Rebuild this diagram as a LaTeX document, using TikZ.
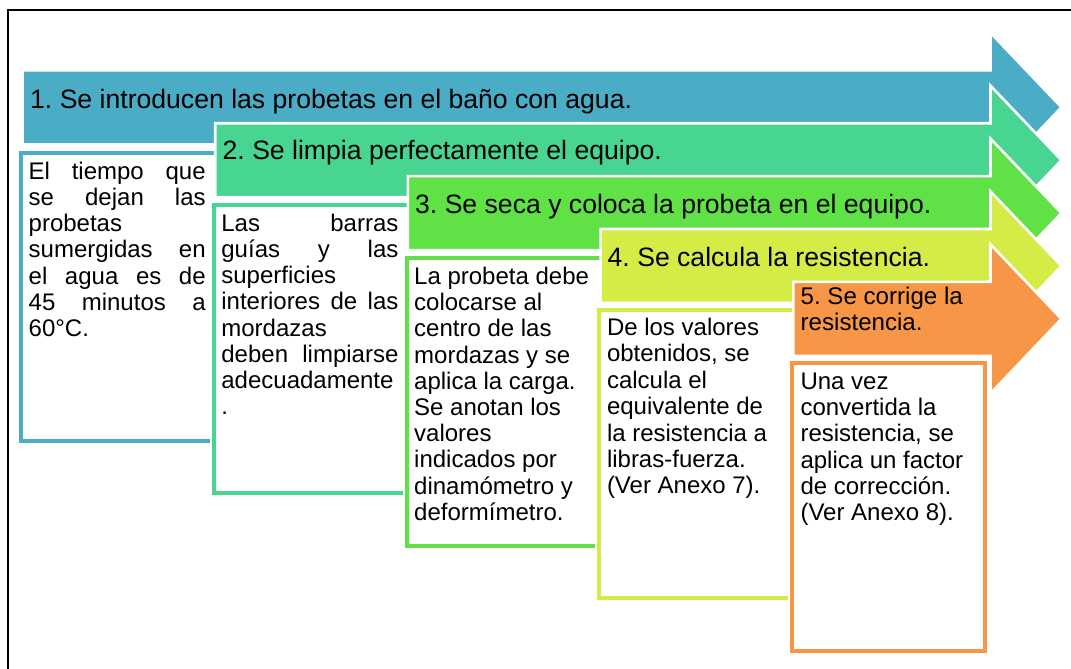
\documentclass[tikz,border=0pt]{standalone}
\usepackage{fontspec}
\setmainfont{Liberation Sans}
\frenchspacing
\definecolor{cA}{RGB}{75,172,198}
\definecolor{cB}{RGB}{72,212,145}
\definecolor{cC}{RGB}{96,225,70}
\definecolor{cD}{RGB}{213,236,70}
\definecolor{cE}{RGB}{247,150,70}
\tikzset{
  arrowshape/.style={fill=#1, draw=white, line width=2.6pt, line join=miter},
  boxhalo/.style={draw=white, line width=8pt, line join=miter},
  boxshape/.style={draw=#1, line width=4pt, line join=miter},
  titletext/.style={anchor=base west, inner sep=0pt, font=\fontsize{26.6}{28}\selectfont},
  titlesmall/.style={anchor=base west, inner sep=0pt, font=\fontsize{24.1}{26}\selectfont},
  bodytext/.style={anchor=base west, inner sep=0pt, font=\fontsize{24}{26.2}\selectfont},
}
\newcommand\ArrowAt[3]{%
  \path[arrowshape=#1] (#2,{#3-37}) -- (990.5,{#3-37}) -- (990.5,{#3-74.5})
    -- (1061.5,#3) -- (990.5,{#3+74.5}) -- (990.5,{#3+37}) -- (#2,{#3+37}) -- cycle;}
% open box: right side hidden under the next step
\newcommand\BoxOpen[3]{%
  \fill[white] ({#2-1.3},{#3+2}) rectangle ({#2+192.7},{#3+290});
  \path[boxhalo] ({#2+192.7},{#3+2}) -- ({#2-1.3},{#3+2}) -- ({#2-1.3},{#3+290}) -- ({#2+192.7},{#3+290});
  \path[boxshape=#1] ({#2+192.7},{#3+2}) -- ({#2-1.3},{#3+2}) -- ({#2-1.3},{#3+290}) -- ({#2+192.7},{#3+290});}
\newcommand\BoxClosed[3]{%
  \path[boxhalo] ({#2-1.3},{#3+2}) rectangle ({#2+191.4},{#3+290});
  \path[boxshape=#1, fill=white] ({#2-1.3},{#3+2}) rectangle ({#2+191.4},{#3+290});}
\newcommand\JL[1]{\hbox to 177pt{#1}}
\newcommand\NL[1]{\hbox{#1}}
\begin{document}
\begin{tikzpicture}[x=1pt,y=-1pt]
\useasboundingbox (0,0) rectangle (1071,669);
\draw[line width=2pt, line join=miter] (8.3,669) -- (8.3,10) -- (1071,10);

% step 1
\ArrowAt{cA}{22.5}{107.3}
\node[titletext] (t1) at (30,108) {1. Se introducen las probetas en el baño con agua.};
\BoxOpen{cA}{22.5}{150.7}
\node[bodytext] (b1) at (28.5,179.2) {\vtop{\baselineskip=26.2pt
  \JL{El tiempo que}\JL{se dejan las}\NL{probetas}\JL{sumergidas en}%
  \JL{el agua es de}\JL{45 minutos a}\NL{60°C.}}};

% step 2
\ArrowAt{cB}{215.2}{160.2}
\node[titletext] (t2) at (222.5,159.3) {2. Se limpia perfectamente el equipo.};
\BoxOpen{cB}{215.2}{202.5}
\node[bodytext] (b2) at (221.2,231.2) {\vtop{\baselineskip=26.2pt
  \JL{Las barras}\JL{guías y las}\NL{superficies}\JL{interiores de las}%
  \NL{mordazas}\JL{deben limpiarse}\NL{adecuadamente}\NL{.}}};

% step 3
\ArrowAt{cC}{407.9}{213.1}
\node[titletext] (t3) at (415,213.3) {3. Se seca y coloca la probeta en el equipo.};
\BoxOpen{cC}{407.9}{255.7}
\node[bodytext] (b3) at (414,284.5) {\vtop{\baselineskip=26.2pt
  \NL{La probeta debe}\NL{colocarse al}\NL{centro de las}\NL{mordazas y se}%
  \NL{aplica la carga.}\NL{Se anotan los}\NL{valores}\NL{indicados por}%
  \NL{dinamómetro y}\NL{deformímetro.}}};

% step 4
\ArrowAt{cD}{600.6}{266.0}
\node[titletext] (t4) at (607.5,266.3) {4. Se calcula la resistencia.};
\BoxOpen{cD}{600.6}{308.2}
\node[bodytext] (b4) at (606.8,335.5) {\vtop{\baselineskip=26.4pt
  \NL{De los valores}\NL{obtenidos, se}\NL{calcula el}\NL{equivalente de}%
  \NL{la resistencia a}\NL{libras-fuerza.}\NL{(Ver Anexo 7).}}};

% step 5
\ArrowAt{cE}{793.3}{318.9}
\node[titlesmall] (t5) at (800.5,304) {\vtop{\baselineskip=26.5pt
  \NL{5. Se corrige la}\NL{resistencia.}}};
\BoxClosed{cE}{793.3}{360.7}
\node[bodytext] (b5) at (800.3,389.3) {\vtop{\baselineskip=26.3pt
  \NL{Una vez}\NL{convertida la}\NL{resistencia, se}\NL{aplica un factor}%
  \NL{de corrección.}\NL{(Ver Anexo 8).}}};
\end{tikzpicture}
\end{document}
